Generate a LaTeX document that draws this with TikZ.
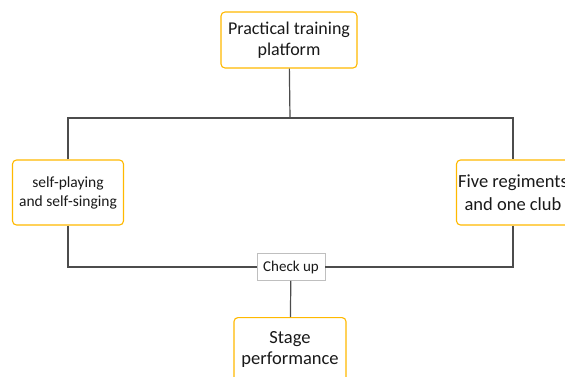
\documentclass[tikz,border=0pt]{standalone}
\usepackage{fontspec}
\setmainfont{Carlito}
\begin{document}
\begin{tikzpicture}[x=1pt,y=1pt,
    box/.style={draw=orange!55!yellow,line width=1.1pt,rounded corners=4pt,fill=white,align=center,text=black!90,inner sep=1pt},
    chk/.style={draw=black!25,line width=0.5pt,fill=white,text=black!90,inner sep=2pt},
    link/.style={draw=black!70,line width=1.2pt}]
\clip (0,0) rectangle (565,-376);
\useasboundingbox (0,0) rectangle (565,-376);
\node[box,minimum width=136,minimum height=56,font=\fontsize{18}{21}\selectfont] (tp) at (289,-40) {Practical training\\platform};
\node[box,minimum width=111,minimum height=65,font=\fontsize{15.5}{19}\selectfont] (sp) at (68,-192.5) {self-playing\\and self-singing};
\node[box,minimum width=113,minimum height=65,font=\fontsize{18.5}{23}\selectfont] (fr) at (513,-192.5) {Five regiments\\and one club};
\node[chk,minimum width=68,minimum height=27,font=\fontsize{15}{17}\selectfont] (ck) at (291,-267) {Check up};
\node[box,minimum width=112,minimum height=64,font=\fontsize{18.5}{21}\selectfont,anchor=north] (sg) at (290,-317) {Stage\\performance};
\coordinate (jt) at (290,-118);
\draw[link] (tp) -- (jt);
\draw[link] (sp.north) |- (jt) -| (fr.north);
\draw[link] (sp.south) |- (ck.west);
\draw[link] (fr.south) |- (ck.east);
\draw[link] (ck) -- (sg);
\end{tikzpicture}
\end{document}
